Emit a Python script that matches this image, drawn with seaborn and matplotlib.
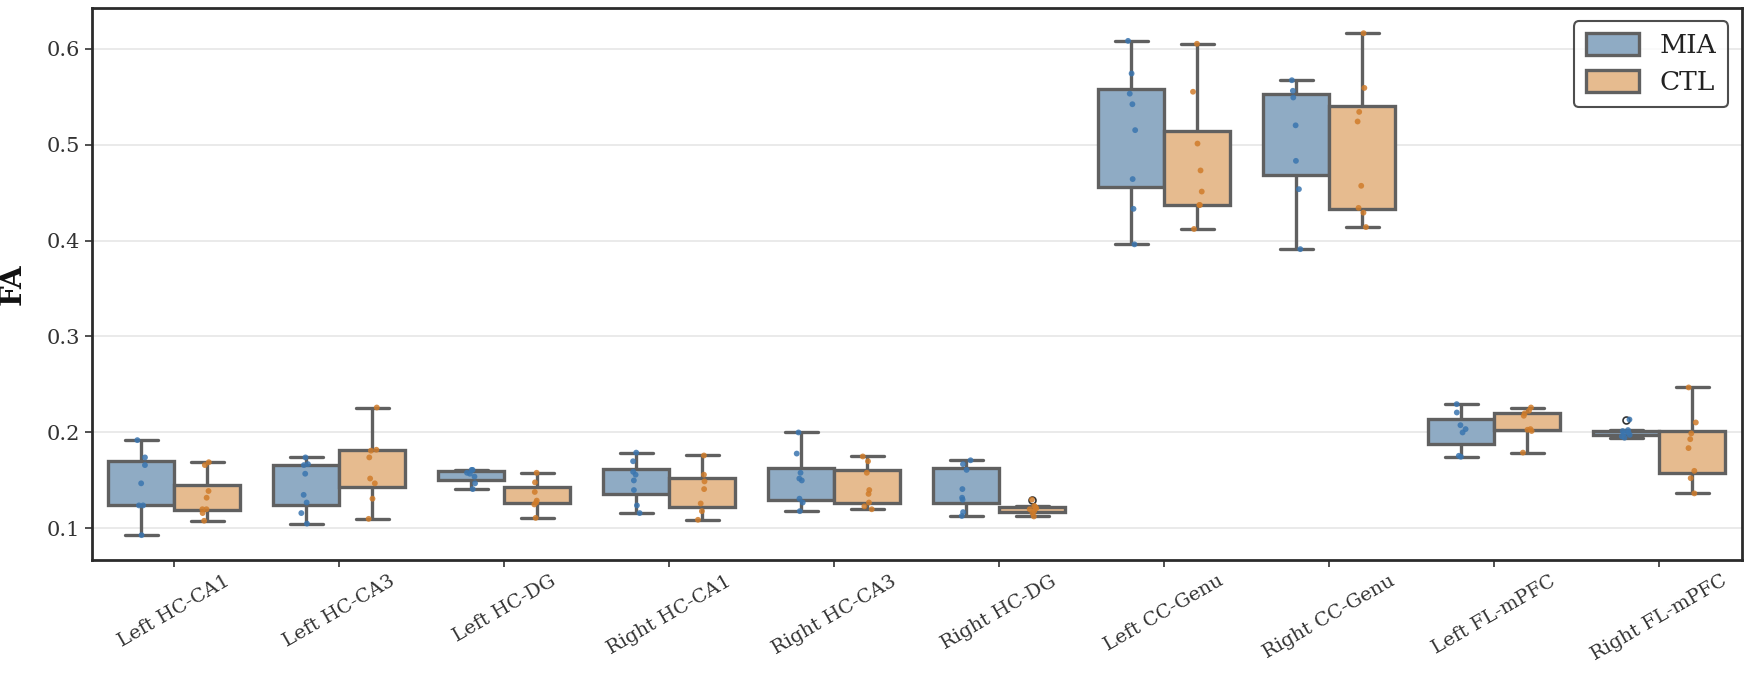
import numpy as np
import pandas as pd
import matplotlib
matplotlib.use("Agg")
import matplotlib.pyplot as plt
import seaborn as sns

REGIONS = [
    "Left HC-CA1", "Left HC-CA3", "Left HC-DG", "Right HC-CA1", "Right HC-CA3",
    "Right HC-DG", "Left CC-Genu", "Right CC-Genu", "Left FL-mPFC", "Right FL-mPFC",
]
GROUPS = ["MIA", "CTL"]

# FA values, one list per region
MIA_FA = [
    [0.093, 0.124, 0.124, 0.147, 0.166, 0.174, 0.192],
    [0.105, 0.116, 0.127, 0.135, 0.157, 0.166, 0.167, 0.174],
    [0.141, 0.147, 0.154, 0.157, 0.158, 0.161, 0.161],
    [0.116, 0.124, 0.140, 0.150, 0.156, 0.159, 0.170, 0.179],
    [0.118, 0.127, 0.131, 0.150, 0.152, 0.158, 0.178, 0.200],
    [0.113, 0.117, 0.130, 0.132, 0.141, 0.161, 0.167, 0.171],
    [0.396, 0.433, 0.464, 0.515, 0.542, 0.553, 0.574, 0.608],
    [0.391, 0.4535, 0.483, 0.520, 0.549, 0.556, 0.567],
    [0.1747, 0.1757, 0.200, 0.2035, 0.2076, 0.2208, 0.2295],
    [0.1945, 0.196, 0.1975, 0.199, 0.200, 0.2015, 0.2025, 0.2135],
]
CTL_FA = [
    [0.108, 0.116, 0.120, 0.120, 0.132, 0.139, 0.166, 0.169],
    [0.110, 0.131, 0.147, 0.152, 0.174, 0.181, 0.182, 0.226],
    [0.111, 0.125, 0.127, 0.129, 0.138, 0.148, 0.158],
    [0.109, 0.118, 0.126, 0.141, 0.149, 0.156, 0.176],
    [0.120, 0.123, 0.127, 0.136, 0.140, 0.158, 0.170, 0.175],
    [0.1125, 0.116, 0.118, 0.120, 0.121, 0.122, 0.1235, 0.130],
    [0.412, 0.437, 0.437, 0.451, 0.473, 0.501, 0.555, 0.605],
    [0.414, 0.429, 0.434, 0.457, 0.524, 0.534, 0.559, 0.616],
    [0.179, 0.2015, 0.2028, 0.2035, 0.2174, 0.2200, 0.2226, 0.226],
    [0.1365, 0.1524, 0.160, 0.1837, 0.193, 0.199, 0.2104, 0.2469],
]

BOX_COLORS = {"MIA": "#8fabc4", "CTL": "#e6bb8f"}
DOT_COLORS = {"MIA": "#3a75af", "CTL": "#d07c2a"}

rows = []
for region, mia, ctl in zip(REGIONS, MIA_FA, CTL_FA):
    for v in mia:
        rows.append({"region": region, "group": "MIA", "FA": v})
    for v in ctl:
        rows.append({"region": region, "group": "CTL", "FA": v})
df = pd.DataFrame(rows)

sns.set_style("white")
plt.rcParams["font.family"] = ["DejaVu Serif"]
np.random.seed(3)

fig, ax = plt.subplots(figsize=(17.47, 6.75), dpi=100)
fig.subplots_adjust(left=0.0524, right=0.9969, top=0.988, bottom=0.170)

ax.yaxis.grid(True, color="#e6e6e6", linewidth=1.2, zorder=0)
ax.set_axisbelow(True)

sns.boxplot(
    data=df, x="region", y="FA", hue="group",
    order=REGIONS, hue_order=GROUPS, palette=BOX_COLORS, saturation=1,
    width=0.8, linecolor="#606060", linewidth=2.4,
    medianprops={"linewidth": 0},
    flierprops={"marker": "o", "markersize": 5, "markerfacecolor": "none",
                "markeredgecolor": "#333333", "markeredgewidth": 1.2},
    ax=ax,
)
sns.stripplot(
    data=df, x="region", y="FA", hue="group",
    order=REGIONS, hue_order=GROUPS, palette=DOT_COLORS,
    dodge=True, jitter=0.06, size=4.2, alpha=0.85, legend=False, ax=ax,
)

ax.set_xlabel("")
ax.set_ylabel("FA", fontsize=21, fontweight="bold", color="#111111", labelpad=14)
ax.set_yticks([0.1, 0.2, 0.3, 0.4, 0.5, 0.6])
ax.tick_params(axis="y", labelsize=15, colors="#333333", length=5, width=1.2, left=True)
ax.tick_params(axis="x", labelsize=14, colors="#333333", length=5, width=1.2, bottom=True,
               labelrotation=30)

for spine in ax.spines.values():
    spine.set_color("#2b2b2b")
    spine.set_linewidth(2)

leg = ax.legend(loc="upper right", fontsize=19, frameon=True, fancybox=True,
                handlelength=2.0, handleheight=0.9, borderpad=0.45, labelspacing=0.45)
leg.get_frame().set_edgecolor("#222222")
leg.get_frame().set_linewidth(1.5)
for txt in leg.get_texts():
    txt.set_color("#222222")

fig.savefig("out.png", dpi=100)
